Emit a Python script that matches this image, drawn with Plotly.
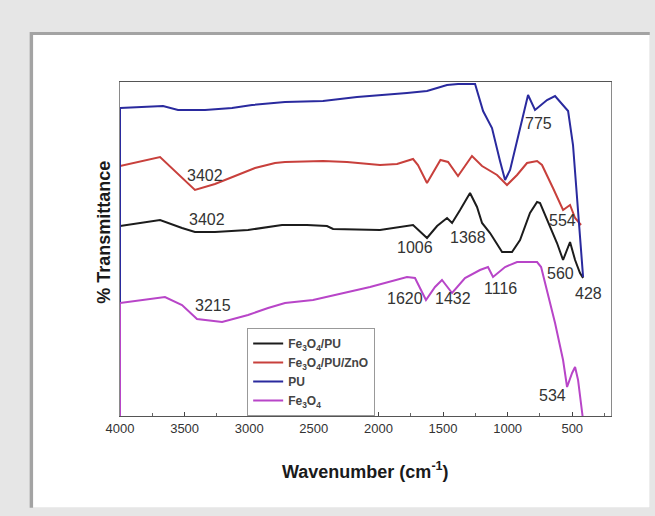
import plotly.graph_objects as go

# ---- data (wavenumber in cm-1, transmittance in arbitrary offset units) ----
pu_wn = [4000, 4000, 3667, 3551, 3342, 3133, 2978, 2723, 2429, 2166, 1779, 1624, 1546, 1469, 1384, 1252,
         1190, 1121, 1059, 1020, 981, 927, 865, 842, 788, 695, 633, 532, 494, 463, 424, 416]
pu_t = [0, 308, 310, 306, 306, 308, 311, 314, 315, 319, 323, 325, 328, 331, 332, 332,
        305, 288, 255, 236, 246, 275, 308, 321, 306, 316, 320, 305, 271, 221, 156, 139]

zno_wn = [4000, 3690, 3420, 3265, 3110, 2955, 2800, 2723, 2429, 2243, 1988, 1856, 1732, 1694, 1624, 1562,
          1520, 1461, 1384, 1276, 1198, 1082, 1005, 927, 850, 772, 734, 649, 571, 517, 478, 432]
zno_t = [250, 259, 226, 232, 240, 248, 253, 254, 255, 254, 251, 252, 257, 251, 233, 246,
         256, 254, 240, 260, 250, 241, 231, 241, 253, 255, 251, 228, 206, 211, 198, 191]

fepu_wn = [4000, 3690, 3520, 3420, 3265, 3009, 2746, 2553, 2398, 2351, 1988, 1732, 1624, 1546, 1469, 1430,
           1368, 1291, 1237, 1198, 1136, 1043, 966, 904, 827, 772, 749, 695, 618, 571, 517, 478, 440, 416]
fepu_t = [190, 196, 188, 184, 184, 186, 191, 191, 190, 187, 186, 191, 178, 190, 198, 193,
          206, 223, 209, 193, 183, 164, 164, 176, 203, 214, 213, 196, 173, 156, 174, 156, 143, 138]

fe_wn = [4000, 4000, 3652, 3520, 3404, 3210, 3009, 2854, 2723, 2506, 2065, 1779, 1717, 1632, 1562, 1508,
         1430, 1330, 1214, 1152, 1113, 1020, 927, 772, 741, 695, 633, 571, 540, 501, 478, 455, 424, 420]
fe_t = [0, 113, 119, 111, 97, 94, 101, 108, 113, 116, 129, 139, 138, 116, 129, 136,
        123, 138, 146, 149, 139, 149, 154, 154, 149, 126, 93, 56, 29, 43, 49, 36, 3, 0]

series_names = ["Fe<sub>3</sub>O<sub>4</sub>/PU", "Fe<sub>3</sub>O<sub>4</sub>/PU/ZnO", "PU", "Fe<sub>3</sub>O<sub>4</sub>"]
series_colors = ["#1c1c1c", "#c8403c", "#2a2a9e", "#b845c8"]

peak_labels = ["775", "3402", "3402", "3215", "1006", "1368", "554", "560", "428", "1116", "1620", "1432", "534"]
peak_x = [765, 3342, 3327, 3280, 1717, 1306, 579, 594, 378, 1059, 1794, 1423, 649]
peak_y = [293, 241, 197, 111, 169, 179, 196, 143, 123, 128, 118, 118, 21]

tick_vals = [4000, 3500, 3000, 2500, 2000, 1500, 1000, 500]
tick_text = ["4000", "3500", "3000", "2500", "2000", "1500", "1000", "500"]

FONT = "Liberation Sans, Arial, sans-serif"

fig = go.Figure()
for wn, t, name, col in [(fepu_wn, fepu_t, series_names[0], series_colors[0]),
                         (zno_wn, zno_t, series_names[1], series_colors[1]),
                         (pu_wn, pu_t, series_names[2], series_colors[2]),
                         (fe_wn, fe_t, series_names[3], series_colors[3])]:
    fig.add_trace(go.Scatter(x=wn, y=t, mode="lines", name="<b>" + name + "</b>",
                             line=dict(color=col, width=2), cliponaxis=True))

for lab, xx, yy in zip(peak_labels, peak_x, peak_y):
    fig.add_annotation(x=xx, y=yy, text=lab, showarrow=False,
                       font=dict(family=FONT, size=16, color="#333333"),
                       xanchor="center", yanchor="middle")

# axis titles
fig.add_annotation(xref="paper", yref="paper", x=0.499, y=-0.162, text="<b>Wavenumber (cm<sup>-1</sup>)</b>",
                   showarrow=False, font=dict(family=FONT, size=18, color="#1a1a1a"),
                   xanchor="center", yanchor="middle")
fig.add_annotation(xref="paper", yref="paper", x=-0.033, y=0.551, text="<b>% Transmittance</b>",
                   showarrow=False, textangle=-90, font=dict(family=FONT, size=18, color="#1a1a1a"),
                   xanchor="center", yanchor="middle")

# card frame
fig.add_shape(type="rect", xref="paper", yref="paper", x0=-0.184, x1=1.079, y0=-0.275, y1=1.150,
              fillcolor="#a3a3a3", line=dict(width=0), layer="below")
fig.add_shape(type="rect", xref="paper", yref="paper", x0=-0.177, x1=1.079, y0=-0.275, y1=1.141,
              fillcolor="white", line=dict(width=0), layer="below")

fig.update_layout(
    width=655, height=516,
    margin=dict(l=120, r=44, t=82, b=100),
    paper_bgcolor="#e6e6e6",
    plot_bgcolor="white",
    showlegend=True,
    legend=dict(x=0.259, y=0.0, xanchor="left", yanchor="bottom",
                bordercolor="#999999", borderwidth=1, bgcolor="white",
                font=dict(family=FONT, size=12, color="#444444"),
                tracegroupgap=0, itemwidth=30),
    font=dict(family=FONT),
)
fig.update_xaxes(range=[4000, 200], tickvals=tick_vals, ticktext=tick_text,
                 ticks="inside", ticklen=4, tickcolor="#444",
                 minor=dict(dtick=250, ticks="inside", ticklen=3, tickcolor="#666", tick0=0),
                 showgrid=False, zeroline=False, showline=True, linecolor="#555555", linewidth=1.2,
                 mirror=True, tickfont=dict(family=FONT, size=13, color="#333333"))
fig.update_yaxes(range=[0, 334], showticklabels=False, ticks="", showgrid=False, zeroline=False,
                 showline=True, linecolor="#8a8a8a", linewidth=1, mirror=True)

fig.write_html("out.html")
